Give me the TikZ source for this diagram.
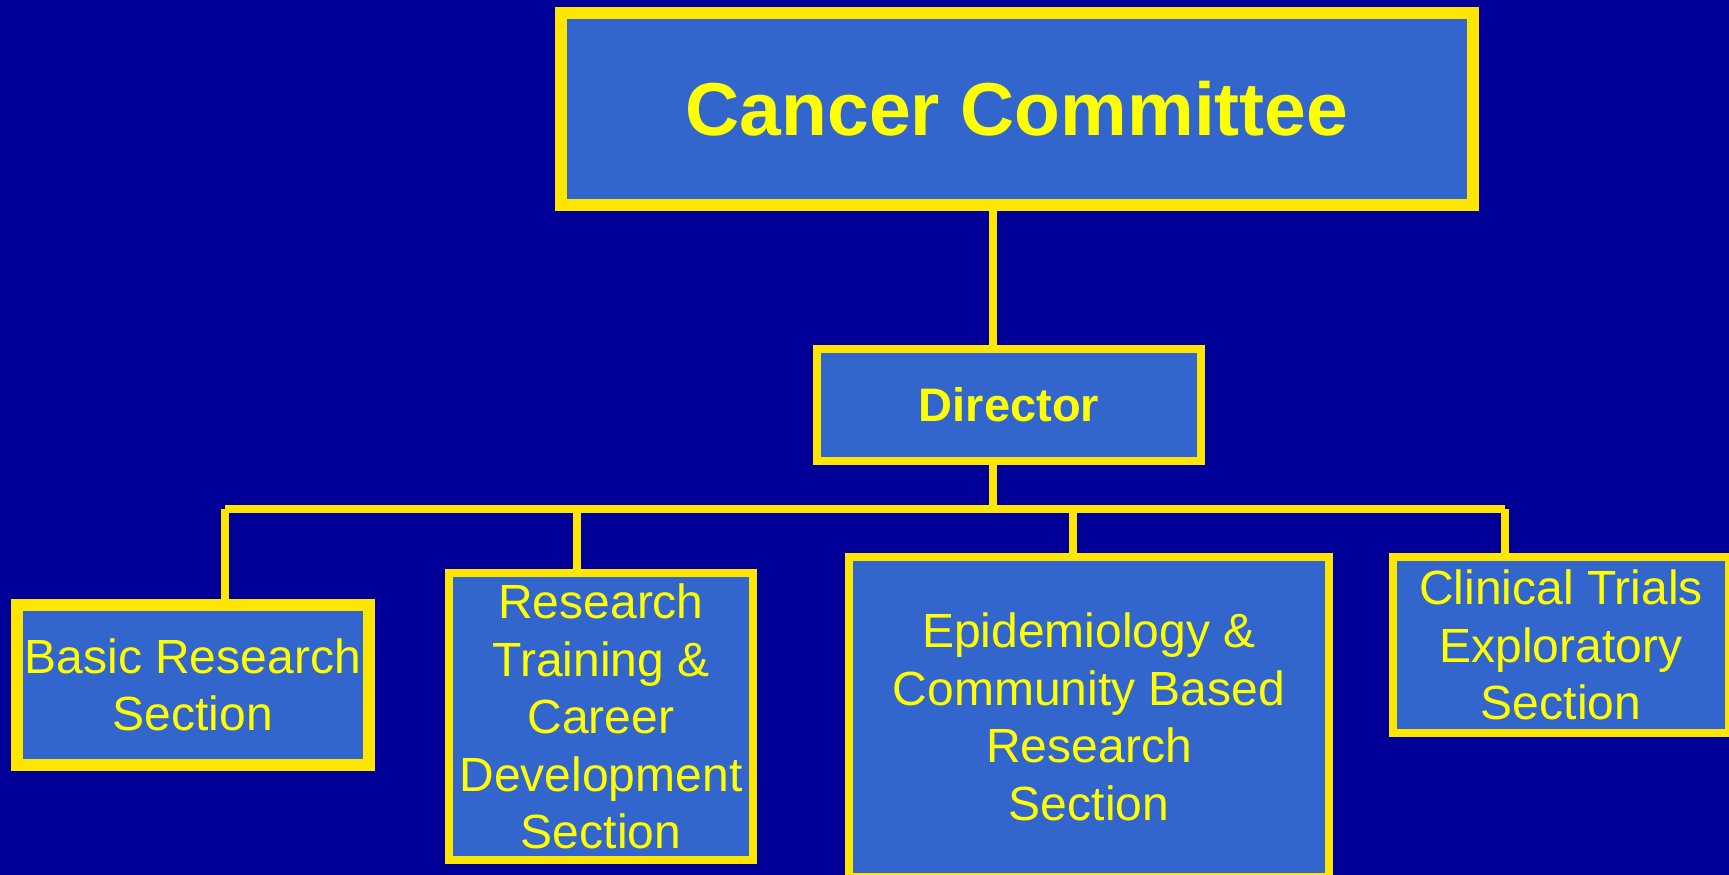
\documentclass[tikz,border=0pt]{standalone}
\usepackage{fontspec}
\setmainfont{Liberation Sans}
\definecolor{bg}{HTML}{000099}
\definecolor{boxfill}{HTML}{3366CC}
\definecolor{edge}{HTML}{FFE600}
\definecolor{txt}{HTML}{FFFF00}
\begin{document}
\begin{tikzpicture}[x=1pt,y=-1pt,
  box/.style={draw=edge,fill=boxfill,text=txt,rectangle,inner sep=0pt,align=center},
  thickbox/.style={box,line width=12pt},
  thinbox/.style={box,line width=8pt},
  bigtext/.style={font=\fontsize{75}{90}\selectfont\bfseries},
  midtext/.style={font=\fontsize{47}{57.5}\selectfont\bfseries},
  smalltext/.style={font=\fontsize{48}{57.5}\selectfont},
  link/.style={draw=edge,line width=8pt}]
\fill[bg] (0,0) rectangle (1729,875);
\clip (0,0) rectangle (1729,875);

\node[thickbox,bigtext,minimum width=912pt,minimum height=192pt] (cc) at (1017,108.7) {Cancer Committee};
\node[thinbox,midtext,minimum width=384pt,minimum height=112pt] (dir) at (1009,405) {Director};
\node[thickbox,smalltext,minimum width=351.5pt,minimum height=160pt] (basic) at (192.75,685) {Basic Research\\Section};
\node[thinbox,smalltext,minimum width=304pt,minimum height=287pt] (rtc) at (601,716.5) {Research\\Training \&\\Career\\Development\\Section};
\node[thinbox,smalltext,minimum width=480pt,minimum height=320pt] (epi) at (1089,717) {Epidemiology \&\\Community Based\\Research\\Section};
\node[thinbox,smalltext,minimum width=336pt,minimum height=176pt] (ct) at (1561,645) {Clinical Trials\\Exploratory\\Section};

\coordinate (j) at (993,509);
\coordinate (bL) at (225,509);
\coordinate (b2) at (577,509);
\coordinate (b3) at (1073,509);
\coordinate (bR) at (1505,509);

\draw[link] (cc.south -| j) -- (dir.north -| j);
\draw[link] (dir.south -| j) -- (j);
\draw[link] (bL) -- (bR);
\draw[link] (bL) -- (basic.north -| bL);
\draw[link] (b2) -- (rtc.north -| b2);
\draw[link] (b3) -- (epi.north -| b3);
\draw[link] (bR) -- (ct.north -| bR);
\end{tikzpicture}
\end{document}
